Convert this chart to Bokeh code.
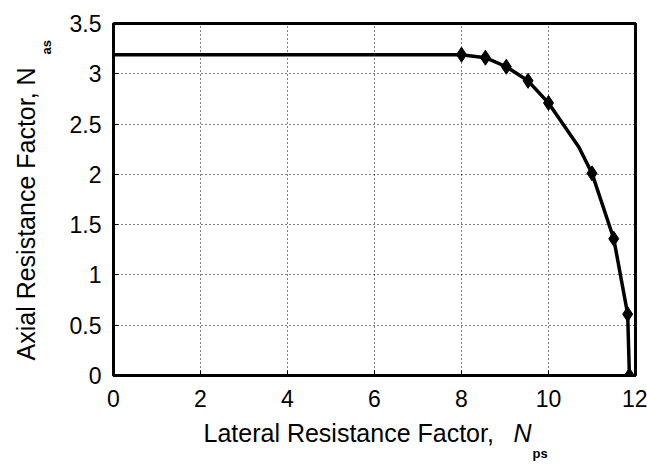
import math
from bokeh.plotting import figure
from bokeh.models import Range1d, FixedTicker, NumeralTickFormatter, Label
from bokeh.embed import file_html
from bokeh.resources import INLINE

# ---- data ----
plateau_x = [0.0]
plateau_y = [3.19]
lateral = [8.0, 8.55, 9.03, 9.53, 10.0, 11.0, 11.5, 11.82, 11.86]
axial = [3.19, 3.16, 3.07, 2.93, 2.71, 2.01, 1.36, 0.61, 0.0]
# extra curve reading between markers (no marker drawn there)
curve_x = [10.7]
curve_y = [2.27]

x_ticks = [0, 2, 4, 6, 8, 10, 12]
y_ticks = [0, 0.5, 1, 1.5, 2, 2.5, 3, 3.5]
x_label = "Lateral Resistance Factor, "
y_label = "Axial Resistance Factor, N"
sym = "N"
x_sub = "ps"
y_sub = "as"

FONT = "Liberation Sans"
W, H = 647, 464
ML, MR, MT, MB = 113, 12, 23, 89

p = figure(width=W, height=H, output_backend="svg", toolbar_location=None,
           x_range=Range1d(0, 12), y_range=Range1d(0, 3.5),
           min_border_left=ML, min_border_right=MR, min_border_top=MT,
           min_border_bottom=MB, background_fill_color="white",
           border_fill_color="white")
p.title.visible = False
p.outline_line_color = "black"
p.outline_line_width = 3

for ax in (p.xaxis[0], p.yaxis[0]):
    ax.axis_line_width = 3
    ax.axis_line_color = "black"
    ax.major_tick_in = 5
    ax.major_tick_out = 0
    ax.minor_tick_in = 0
    ax.minor_tick_out = 0
    ax.major_tick_line_color = "black"
    ax.major_label_text_font = FONT
    ax.major_label_text_font_size = "23px"
    ax.major_label_text_color = "black"

p.xaxis.ticker = FixedTicker(ticks=x_ticks)
p.yaxis.ticker = FixedTicker(ticks=y_ticks)
p.yaxis.formatter = NumeralTickFormatter(format="0.[0]")
p.xaxis.formatter = NumeralTickFormatter(format="0")
p.xaxis.major_label_standoff = 14
p.yaxis.major_label_standoff = 12

p.xgrid.ticker = FixedTicker(ticks=x_ticks)
p.ygrid.ticker = FixedTicker(ticks=y_ticks)
for g in (p.xgrid, p.ygrid):
    g.grid_line_color = "black"
    g.grid_line_dash = "1 3"
    g.grid_line_width = 1

pts = sorted(zip(plateau_x + lateral + curve_x, plateau_y + axial + curve_y))
p.line([a for a, b in pts], [b for a, b in pts], line_color="black",
       line_width=3.5)
p.scatter(lateral, axial, marker="diamond", size=15, fill_color="black",
          line_color="black")

# axis titles drawn as labels in canvas units (top-left origin), spread over
# the side panels so that they are not clipped and fit in the borders
LS = "25px"
SS = "13px"
common = dict(x_units="canvas", y_units="canvas", text_font=FONT,
              text_align="left", text_baseline="alphabetic",
              text_color="black")
p.add_layout(Label(x=203, y=432, text=x_label, text_font_size=LS, **common),
             "below")
p.add_layout(Label(x=532, y=453, text=x_sub, text_font_size=SS,
                   text_font_style="bold", **common), "below")
p.add_layout(Label(x=513, y=432, text=sym, text_font_size=LS,
                   text_font_style="italic", **common), "left")
p.add_layout(Label(x=25, y=360, text=y_label, text_font_size=LS,
                   angle=math.pi / 2, **common), "left")
p.add_layout(Label(x=46, y=54, text=y_sub, text_font_size=SS,
                   text_font_style="bold", angle=math.pi / 2, **common),
             "above")

open("out.html", "w").write(file_html(p, INLINE))
